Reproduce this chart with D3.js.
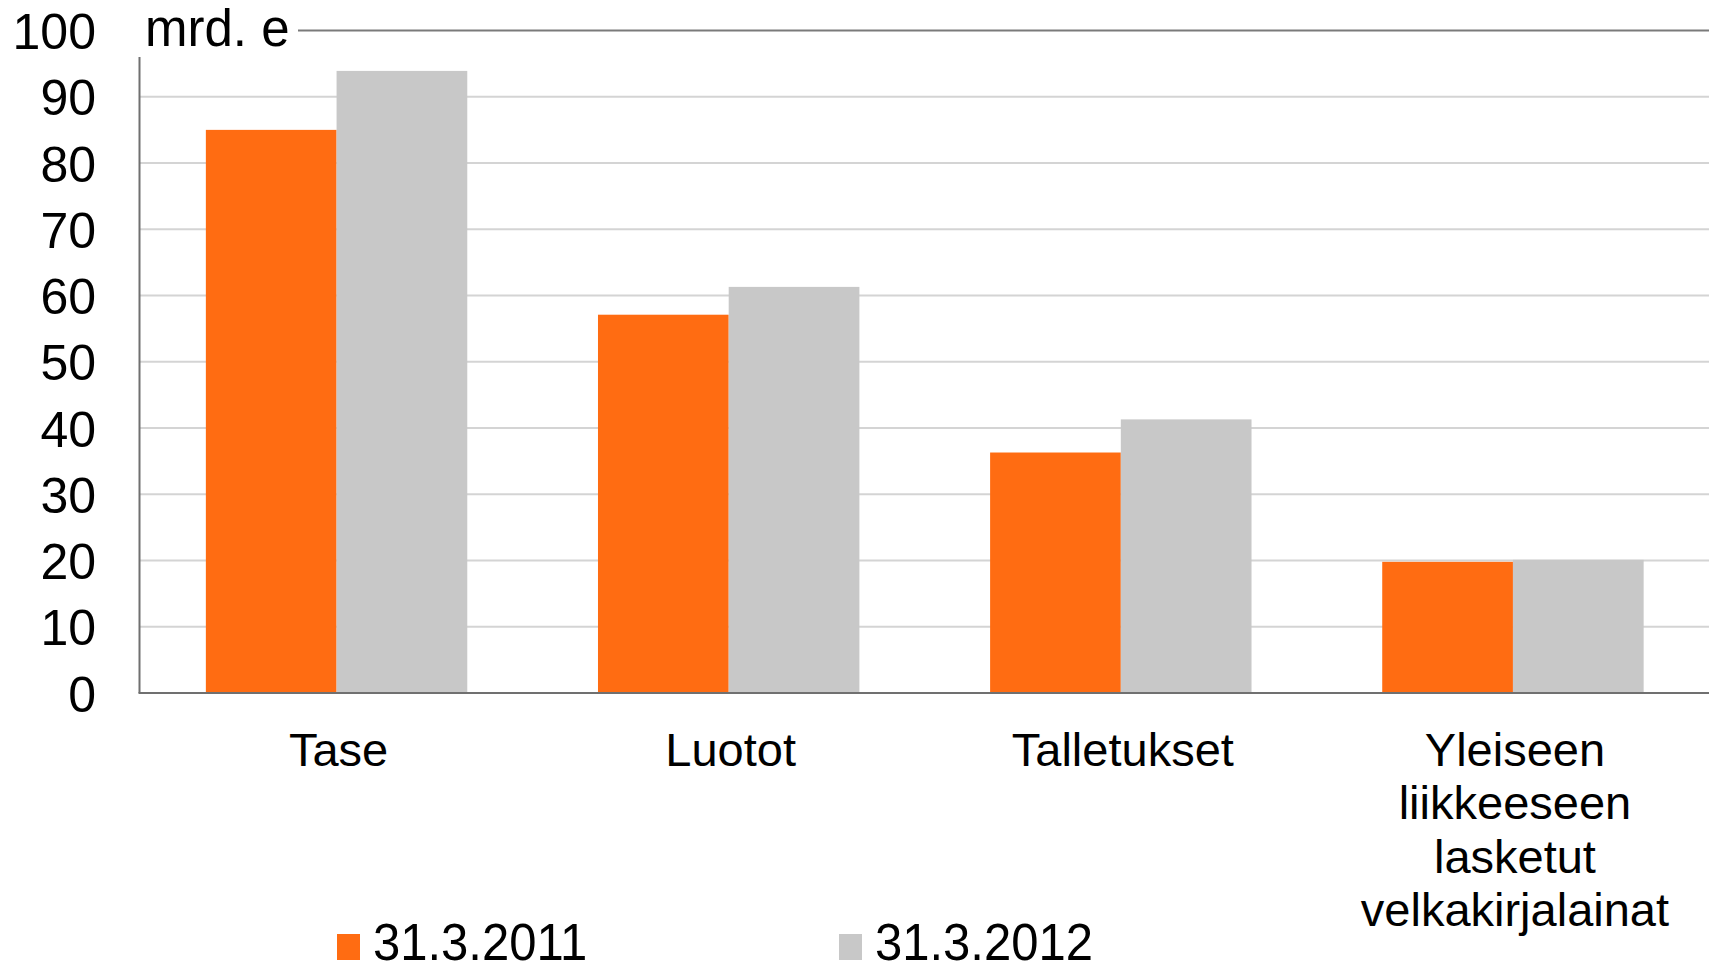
<!DOCTYPE html>
<html>
<head>
<meta charset="utf-8">
<script src="https://cdn.jsdelivr.net/npm/d3@7"></script>
<style>
  body { margin: 0; background: #fff; }
  text { font-family: "Liberation Sans", Arial, sans-serif; fill: #000; }
</style>
</head>
<body>
<svg id="chart"></svg>
<script>
var categories = [
    ["Tase"],
    ["Luotot"],
    ["Talletukset"],
    ["Yleiseen", "liikkeeseen", "lasketut", "velkakirjalainat"]
];
var seriesNames = ["31.3.2011", "31.3.2012"];
var values2011 = [85, 57.1, 36.3, 19.8];
var values2012 = [93.9, 61.3, 41.3, 20.1];
var yTicks = [0, 10, 20, 30, 40, 50, 60, 70, 80, 90, 100];
var unitLabel = "mrd. e";

var colors = ["#ff6c12", "#c8c8c8"];

var screen = {width: 1709, height: 971};
var margins = {top: 30.5, bottom: 278, left: 139.5, right: 0};
var graph = {
    width: screen.width - margins.left - margins.right,
    height: screen.height - margins.top - margins.bottom
};

var svg = d3.select("#chart")
    .attr("width", screen.width)
    .attr("height", screen.height);

var catKeys = categories.map(function(c) { return c.join(" "); });

var xScale = d3.scaleBand()
    .domain(catKeys)
    .range([margins.left + 1, margins.left + graph.width])
    .padding(0);

var xInner = d3.scaleBand()
    .domain(seriesNames)
    .range([0, xScale.bandwidth()])
    .paddingInner(0)
    .paddingOuter(0.5);

var yScale = d3.scaleLinear()
    .domain([0, 100])
    .range([margins.top + graph.height, margins.top]);

// gridlines (not the top one, drawn separately)
svg.append("g")
    .selectAll("line")
    .data(yTicks.filter(function(t) { return t > 0 && t < 100; }))
    .enter()
    .append("line")
    .attr("x1", margins.left)
    .attr("x2", margins.left + graph.width)
    .attr("y1", function(t) { return yScale(t); })
    .attr("y2", function(t) { return yScale(t); })
    .attr("stroke", "#d4d4d4")
    .attr("stroke-width", 2);

// top line to the right of the unit label
svg.append("line")
    .attr("x1", 298)
    .attr("x2", margins.left + graph.width)
    .attr("y1", yScale(100))
    .attr("y2", yScale(100))
    .attr("stroke", "#7a7a7a")
    .attr("stroke-width", 2);

// bars
var series = [values2011, values2012];
var groups = svg.append("g")
    .selectAll("g")
    .data(series)
    .enter()
    .append("g")
    .attr("fill", function(d, i) { return colors[i]; });

groups.selectAll("rect")
    .data(function(vals, si) {
        return vals.map(function(v, ci) { return {cat: catKeys[ci], s: seriesNames[si], v: v}; });
    })
    .enter()
    .append("rect")
    .attr("x", function(d) { return xScale(d.cat) + xInner(d.s); })
    .attr("width", xInner.bandwidth())
    .attr("y", function(d) { return yScale(d.v); })
    .attr("height", function(d) { return yScale(0) - yScale(d.v); });

// axes lines
svg.append("line")
    .attr("x1", margins.left)
    .attr("x2", margins.left)
    .attr("y1", 57)
    .attr("y2", yScale(0))
    .attr("stroke", "#707070")
    .attr("stroke-width", 2);

svg.append("line")
    .attr("x1", margins.left - 1)
    .attr("x2", margins.left + graph.width)
    .attr("y1", yScale(0))
    .attr("y2", yScale(0))
    .attr("stroke", "#707070")
    .attr("stroke-width", 2);

// y tick labels
var yAxis = d3.axisLeft(yScale)
    .tickValues(yTicks)
    .tickSize(0)
    .tickPadding(0);

var yAxisG = svg.append("g")
    .attr("transform", "translate(96,0)")
    .call(yAxis);
yAxisG.select(".domain").remove();
yAxisG.selectAll("text")
    .attr("font-family", "Liberation Sans, Arial, sans-serif")
    .attr("font-size", 50)
    .attr("fill", "#000")
    .attr("dy", "0.36em");

// unit label
svg.append("text")
    .text(unitLabel)
    .attr("x", 145)
    .attr("y", 46)
    .attr("font-size", 51);

// category labels
var catLabels = svg.append("g")
    .selectAll("text")
    .data(categories)
    .enter()
    .append("text")
    .attr("text-anchor", "middle")
    .attr("font-size", 47)
    .attr("x", function(c) { return xScale(c.join(" ")) + xScale.bandwidth() / 2 + 2; })
    .attr("y", yScale(0) + 73);

catLabels.selectAll("tspan")
    .data(function(c) { return c; })
    .enter()
    .append("tspan")
    .attr("x", function() { return d3.select(this.parentNode).attr("x"); })
    .attr("dy", function(d, i) { return i === 0 ? 0 : 53.4; })
    .text(function(d) { return d; });

// legend
var legendX = [337, 839];
var legend = svg.append("g")
    .selectAll("g")
    .data(seriesNames)
    .enter()
    .append("g")
    .attr("transform", function(d, i) { return "translate(" + legendX[i] + ",0)"; });

legend.append("rect")
    .attr("x", 0)
    .attr("y", 934)
    .attr("width", 23)
    .attr("height", 26)
    .attr("fill", function(d, i) { return colors[i]; });

legend.append("text")
    .text(function(d) { return d; })
    .attr("x", 36)
    .attr("y", 960)
    .attr("font-size", 49)
    .attr("transform", "scale(1,1.04)")
    .attr("transform-origin", "0 960");
</script>
</body>
</html>
